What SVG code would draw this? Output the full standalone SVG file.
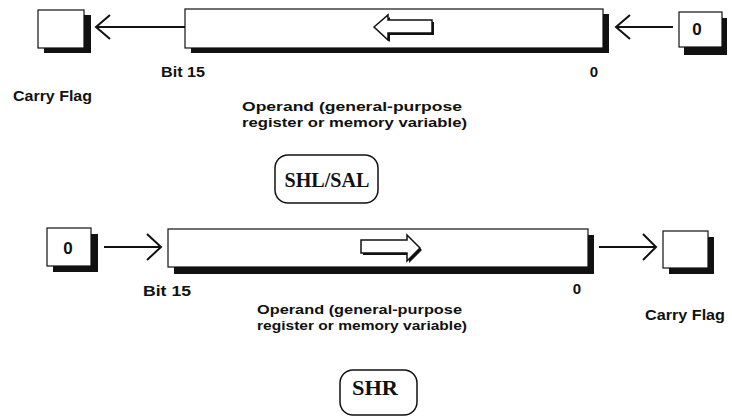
<svg xmlns="http://www.w3.org/2000/svg" width="732" height="417" viewBox="0 0 732 417">
<style>
.box{fill:#fff;stroke:#111;stroke-width:1.2}
.sh{fill:#111}
.ln{fill:none;stroke:#111;stroke-width:2}
.lbl{font-family:"Liberation Sans",Arial,sans-serif;font-weight:bold;font-size:15px;fill:#111}
.zb{font-family:"Liberation Sans",Arial,sans-serif;font-weight:bold;font-size:17px;fill:#111}
.opd{font-family:"Liberation Sans",Arial,sans-serif;font-weight:bold;font-size:13.5px;fill:#111}
.op{font-family:"Liberation Serif","Times New Roman",serif;font-weight:bold;font-size:20px;fill:#111}
.rb{fill:#fff;stroke:#111;stroke-width:1.5}
.ha{fill:#fff;stroke:#111;stroke-width:1.5;stroke-linejoin:miter}
</style>
<rect width="732" height="417" fill="#fff"/>

<!-- SHL/SAL section -->
<g id="shl-carry">
<rect class="sh" x="44" y="15" width="47" height="38"/>
<rect class="box" x="38" y="10" width="46" height="38"/>
</g>
<g id="shl-operand">
<rect class="sh" x="191" y="14" width="418" height="39"/>
<rect class="box" x="185" y="9" width="418" height="39"/>
<polygon class="sh" points="376,29 390,17 390,22 434,22 434,35 390,35 390,42"/>
<polygon class="ha" points="374,27 388,15 388,20 432,20 432,33 388,33 388,40"/>
</g>
<g id="shl-zero">
<rect class="sh" x="684" y="18" width="43" height="37"/>
<rect class="box" x="679" y="12" width="43" height="35"/>
<text class="zb" x="697" y="35" text-anchor="middle">0</text>
</g>
<g id="shl-labels">
<text class="lbl" x="161" y="77" textLength="44" lengthAdjust="spacingAndGlyphs">Bit 15</text>
<text class="lbl" x="594" y="77" text-anchor="middle">0</text>
<text class="lbl" x="13" y="101" textLength="79" lengthAdjust="spacingAndGlyphs">Carry Flag</text>
<text class="opd" x="242" y="111" textLength="220" lengthAdjust="spacingAndGlyphs">Operand (general-purpose</text>
<text class="opd" x="242" y="127" textLength="225" lengthAdjust="spacingAndGlyphs">register or memory variable)</text>
</g>
<g id="shl-name">
<rect class="rb" x="275" y="155" width="103" height="48" rx="13"/>
<text class="op" x="327" y="187" text-anchor="middle" textLength="85" lengthAdjust="spacingAndGlyphs">SHL/SAL</text>
</g>

<!-- SHR section -->
<g id="shr-zero">
<rect class="sh" x="53" y="234" width="45" height="38"/>
<rect class="box" x="47" y="228" width="44" height="38"/>
<text class="zb" x="68" y="254" text-anchor="middle">0</text>
</g>
<g id="shr-operand">
<rect class="sh" x="174" y="235" width="420" height="39"/>
<rect class="box" x="168" y="229" width="420" height="38"/>
<polygon class="sh" points="363,242 409,242 409,237 422,250 409,263 409,255 363,255"/>
<polygon class="ha" points="361,240 407,240 407,235 420,248 407,261 407,253 361,253"/>
</g>
<g id="shr-carry">
<rect class="sh" x="669" y="237" width="45" height="37"/>
<rect class="box" x="663" y="231" width="45" height="37"/>
</g>
<g id="shr-labels">
<text class="lbl" x="143" y="296" textLength="48" lengthAdjust="spacingAndGlyphs">Bit 15</text>
<text class="lbl" x="577" y="294" text-anchor="middle">0</text>
<text class="lbl" x="645" y="320" textLength="80" lengthAdjust="spacingAndGlyphs">Carry Flag</text>
<text class="opd" x="257" y="314" textLength="205" lengthAdjust="spacingAndGlyphs">Operand (general-purpose</text>
<text class="opd" x="257" y="330" textLength="210" lengthAdjust="spacingAndGlyphs">register or memory variable)</text>
</g>
<g id="shr-name">
<rect class="rb" x="340" y="370" width="77" height="45" rx="13"/>
<text class="op" x="375" y="395" text-anchor="middle" textLength="46" lengthAdjust="spacingAndGlyphs">SHR</text>
</g>

<g id="connectors">
<line class="ln" x1="185" y1="27" x2="96" y2="27"/>
<polyline class="ln" points="110,15 96,27 110,39"/>
<line class="ln" x1="673" y1="27" x2="616" y2="27"/>
<polyline class="ln" points="630,15 616,27 630,39"/>
<line class="ln" x1="104" y1="247" x2="161" y2="247"/>
<polyline class="ln" points="147,234 161,247 147,260"/>
<line class="ln" x1="599" y1="247" x2="656" y2="247"/>
<polyline class="ln" points="643,234 656,247 643,260"/>
</g>
</svg>
